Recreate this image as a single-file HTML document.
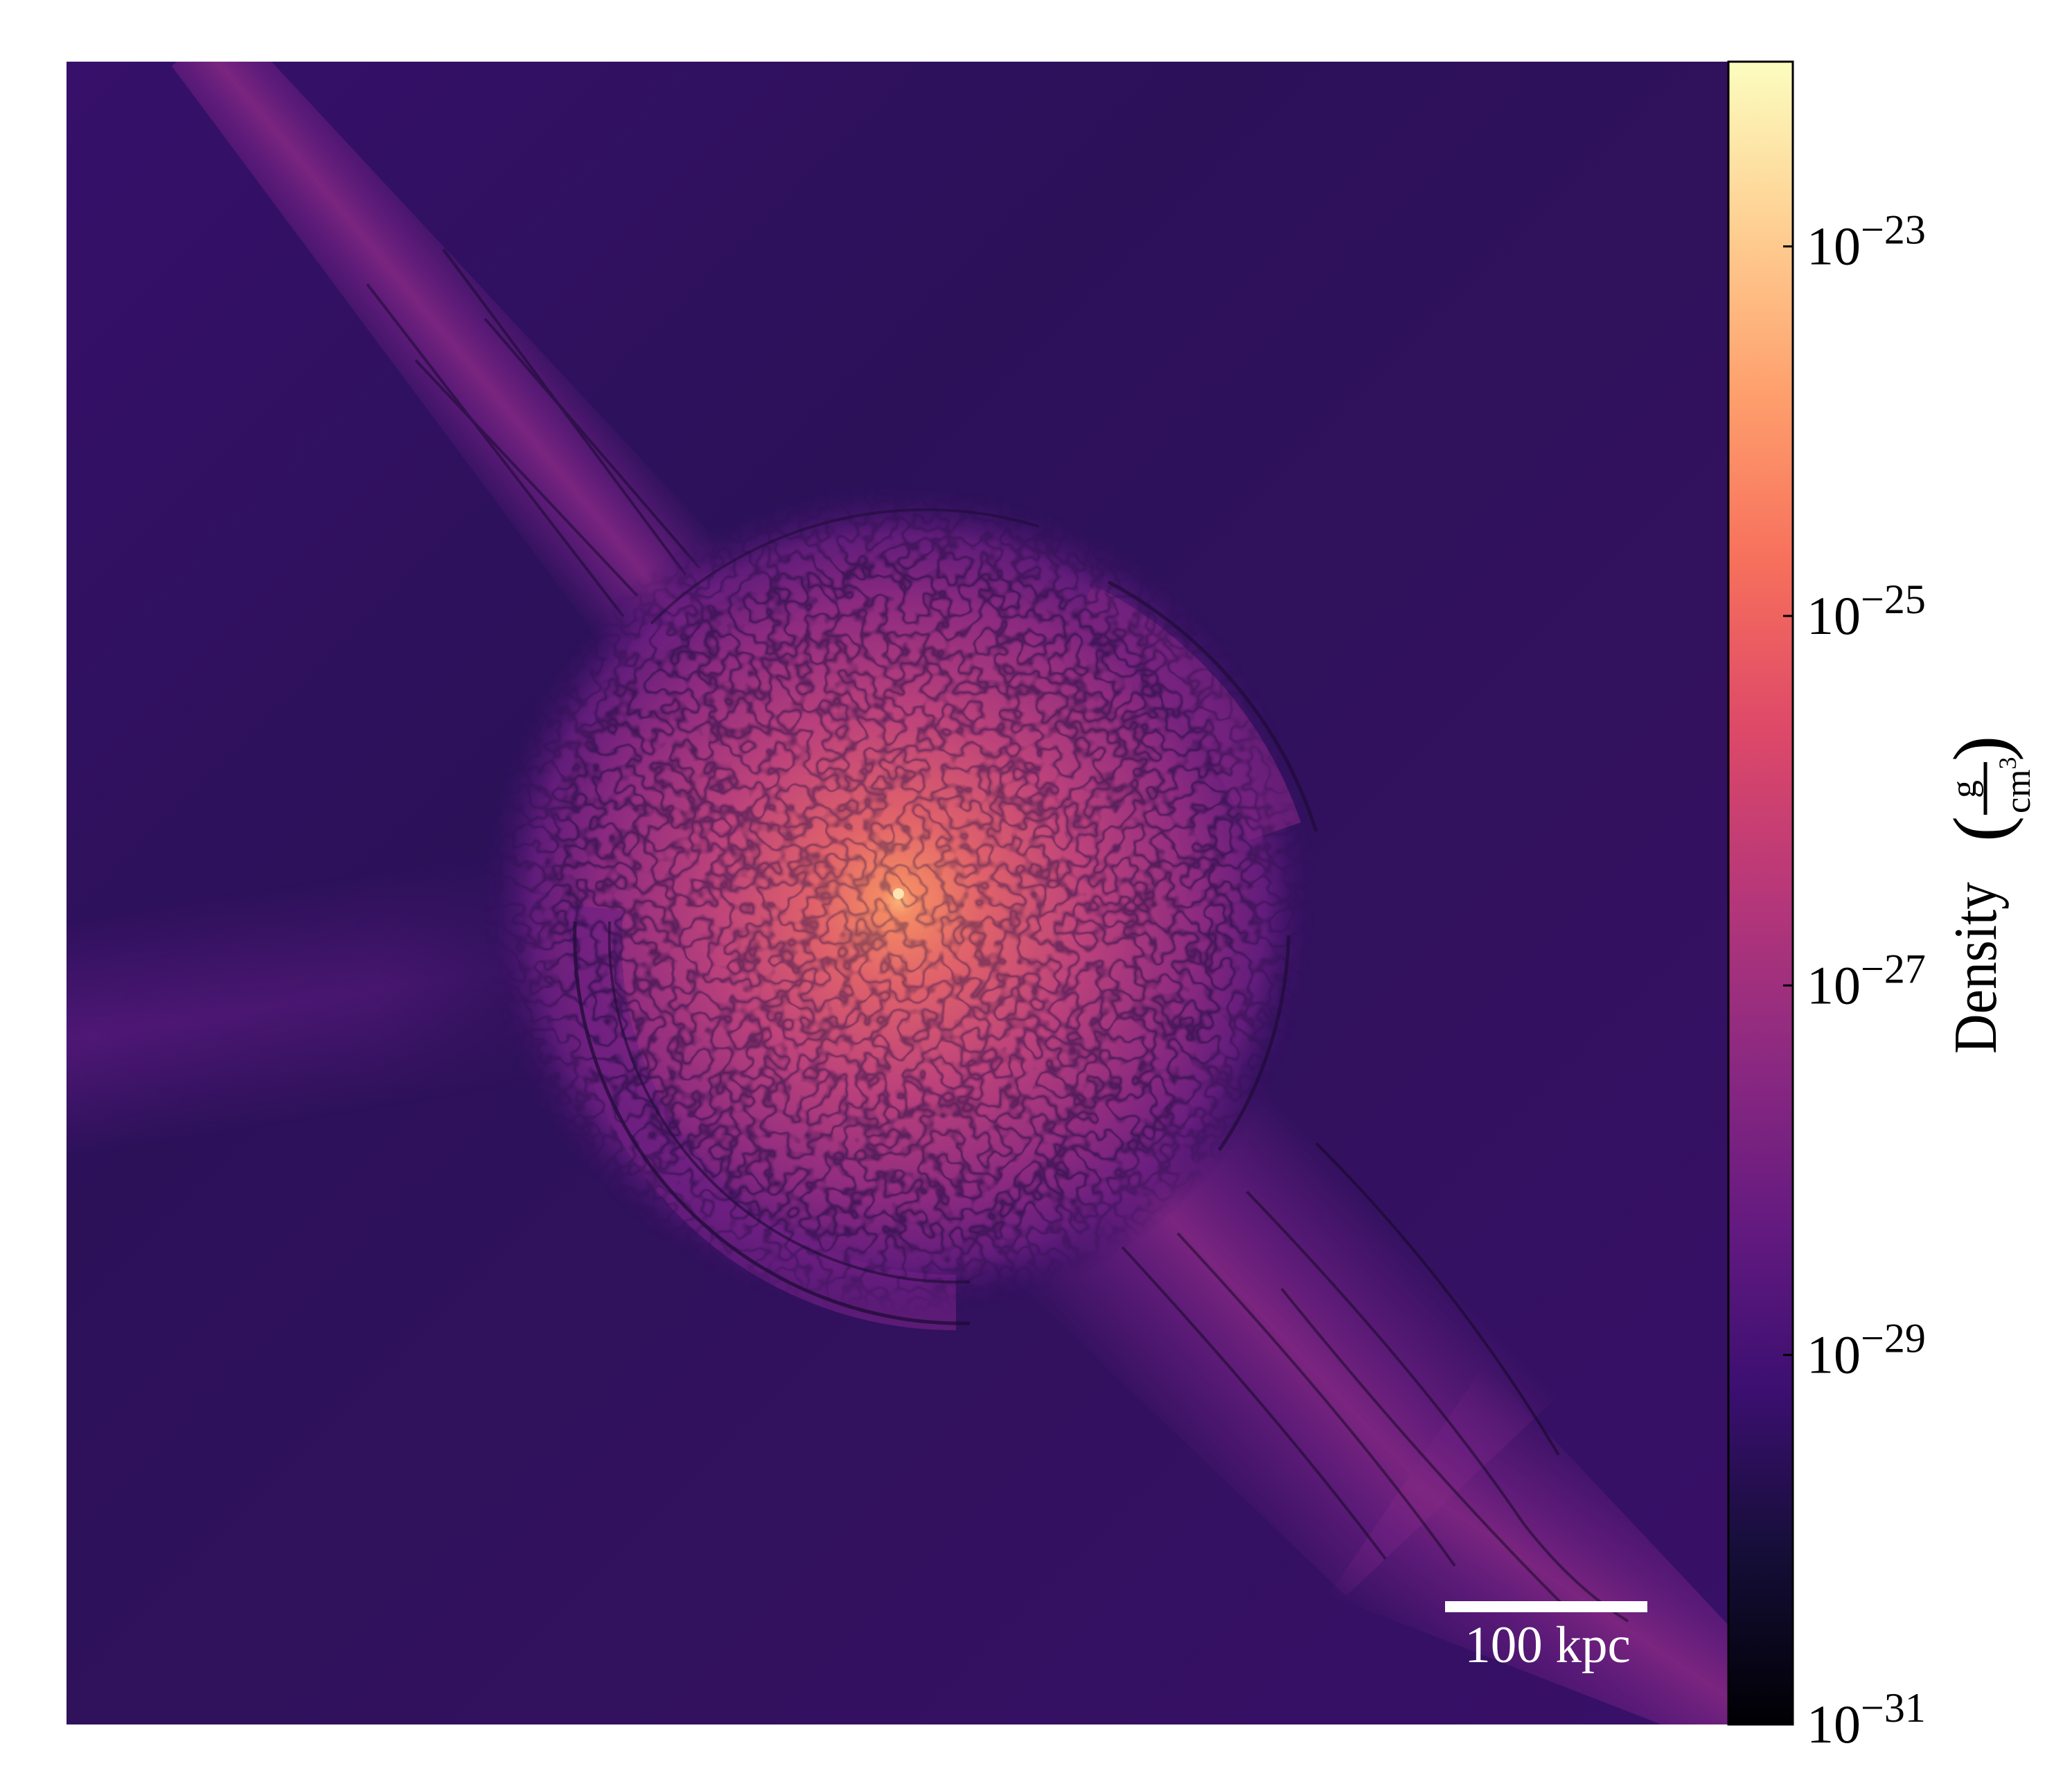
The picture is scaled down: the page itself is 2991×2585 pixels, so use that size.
<!DOCTYPE html>
<html><head><meta charset="utf-8">
<style>
html,body{margin:0;padding:0;background:#fff;}
svg{display:block;}
text{font-family:"Liberation Serif","DejaVu Serif",serif;}
</style></head>
<body>
<svg id="fig" width="2991" height="2585" viewBox="0 0 2991 2585" xmlns="http://www.w3.org/2000/svg" color-interpolation-filters="sRGB">
<defs>
  <clipPath id="plotClip"><rect x="96" y="89" width="2399" height="2400"/></clipPath>
  <linearGradient id="bgGrad" x1="0" y1="0" x2="1" y2="1">
    <stop offset="0" stop-color="#36106a"/>
    <stop offset="0.35" stop-color="#2c1159"/>
    <stop offset="0.7" stop-color="#33115f"/>
    <stop offset="1" stop-color="#381068"/>
  </linearGradient>
  <linearGradient id="bandGrad" x1="0" y1="0" x2="0" y2="1">
    <stop offset="0" stop-color="#5a1a7e" stop-opacity="0"/>
    <stop offset="0.5" stop-color="#5a1a7e" stop-opacity="0.75"/>
    <stop offset="1" stop-color="#5a1a7e" stop-opacity="0"/>
  </linearGradient>
  <linearGradient id="jetGrad" x1="0" y1="0" x2="0" y2="1">
    <stop offset="0" stop-color="#6c1f80" stop-opacity="0"/>
    <stop offset="0.3" stop-color="#6c1f80" stop-opacity="0.7"/>
    <stop offset="0.5" stop-color="#7e2681" stop-opacity="0.95"/>
    <stop offset="0.7" stop-color="#6c1f80" stop-opacity="0.7"/>
    <stop offset="1" stop-color="#6c1f80" stop-opacity="0"/>
  </linearGradient>
  <linearGradient id="hBandGrad" x1="0" y1="0" x2="1" y2="0">
    <stop offset="0" stop-color="#fff" stop-opacity="1"/>
    <stop offset="0.6" stop-color="#fff" stop-opacity="0.8"/>
    <stop offset="1" stop-color="#fff" stop-opacity="0"/>
  </linearGradient>
  <mask id="bandMask"><rect x="96" y="1100" width="750" height="700" fill="url(#hBandGrad)"/></mask>
  <radialGradient id="coreGrad" cx="1298" cy="1300" r="600" gradientUnits="userSpaceOnUse">
    <stop offset="0" stop-color="#fbb27a"/>
    <stop offset="0.04" stop-color="#f48a64"/>
    <stop offset="0.2" stop-color="#e0626a"/>
    <stop offset="0.45" stop-color="#bc427b"/>
    <stop offset="0.72" stop-color="#8c2a80"/>
    <stop offset="0.88" stop-color="#6a1e80" stop-opacity="0.85"/>
    <stop offset="1" stop-color="#3a1068" stop-opacity="0"/>
  </radialGradient>
  <radialGradient id="coreMaskGrad" cx="1298" cy="1300" r="600" gradientUnits="userSpaceOnUse">
    <stop offset="0" stop-color="#fff" stop-opacity="0.45"/>
    <stop offset="0.8" stop-color="#fff" stop-opacity="0.85"/>
    <stop offset="0.93" stop-color="#fff" stop-opacity="0.4"/>
    <stop offset="1" stop-color="#fff" stop-opacity="0"/>
  </radialGradient>
  <mask id="coreMask"><rect x="96" y="89" width="2399" height="2400" fill="url(#coreMaskGrad)"/></mask>
  <filter id="veins" x="600" y="600" width="1400" height="1400" filterUnits="userSpaceOnUse" color-interpolation-filters="sRGB">
    <feTurbulence type="fractalNoise" baseFrequency="0.036" numOctaves="2" seed="7" result="n"/>
    <feColorMatrix in="n" type="matrix" values="0 0 0 0 0.14  0 0 0 0 0.05  0 0 0 0 0.27  1 0 0 0 0"/>
    <feComponentTransfer><feFuncA type="table" tableValues="0 0 0 0 0 0 0 0 0.3 0.8 0.3 0 0 0 0 0 0 0 0"/></feComponentTransfer>
  </filter>
  <linearGradient id="cbGrad" x1="0" y1="1" x2="0" y2="0">
    <stop offset="0" stop-color="#000004"/>
    <stop offset="0.1" stop-color="#140e36"/>
    <stop offset="0.2" stop-color="#3b0f70"/>
    <stop offset="0.3" stop-color="#641a80"/>
    <stop offset="0.4" stop-color="#8c2981"/>
    <stop offset="0.5" stop-color="#b73779"/>
    <stop offset="0.6" stop-color="#de4968"/>
    <stop offset="0.7" stop-color="#f7705c"/>
    <stop offset="0.8" stop-color="#fe9f6d"/>
    <stop offset="0.9" stop-color="#fecf92"/>
    <stop offset="1" stop-color="#fcfdbf"/>
  </linearGradient>
</defs>

<g id="image" clip-path="url(#plotClip)">
  <rect x="96" y="89" width="2399" height="2400" fill="url(#bgGrad)"/>
  <g mask="url(#bandMask)">
    <g transform="translate(96,1500) rotate(-9)">
      <rect x="-200" y="-170" width="1100" height="340" fill="url(#bandGrad)"/>
    </g>
  </g>
  <g id="jetUpper">
    <g transform="translate(290,60) rotate(50.2)">
      <polygon points="0,-55 1100,-115 1100,115 0,55" fill="url(#jetGrad)"/>
    </g>
    <g stroke="#12082a" stroke-width="4" fill="none" opacity="0.5">
      <line x1="530" y1="410" x2="900" y2="890"/>
      <line x1="640" y1="360" x2="990" y2="830"/>
      <line x1="700" y1="460" x2="1010" y2="820"/>
      <line x1="600" y1="520" x2="920" y2="860"/>
    </g>
  </g>
  <g id="jetLower">
    <g transform="translate(1560,1620) rotate(46.7)">
      <polygon points="0,-230 760,-230 760,190 0,230" fill="url(#jetGrad)"/>
    </g>
    <g transform="translate(2080,2170) rotate(34)">
      <polygon points="-60,-200 560,-60 560,60 -60,200" fill="url(#jetGrad)"/>
    </g>
    <g stroke="#10071f" stroke-width="4" fill="none" opacity="0.5">
      <path d="M1620 1800 Q1850 2050 2000 2250"/>
      <path d="M1700 1780 Q1950 2050 2100 2260"/>
      <path d="M1800 1720 Q2050 1980 2200 2200 Q2270 2290 2350 2340"/>
      <path d="M1900 1650 Q2100 1850 2250 2100"/>
      <path d="M1850 1860 Q2060 2120 2260 2320"/>
    </g>
  </g>
  <circle cx="1298" cy="1300" r="620" fill="url(#coreGrad)"/>
  <g id="arcs" fill="none">
    <path d="M860 1310 A520 520 0 0 0 1380 1880" stroke="#6d2082" stroke-width="80" opacity="0.7"/>
    <path d="M830 1330 A560 560 0 0 0 1400 1910" stroke="#1a0a30" stroke-width="5" opacity="0.7"/>
    <path d="M880 1330 A500 500 0 0 0 1400 1850" stroke="#1a0a30" stroke-width="4" opacity="0.6"/>
    <path d="M1560 880 A560 560 0 0 1 1840 1200" stroke="#7a2480" stroke-width="80" opacity="0.7"/>
    <path d="M1600 840 A620 620 0 0 1 1900 1200" stroke="#1a0a30" stroke-width="5" opacity="0.6"/>
    <path d="M940 900 A560 560 0 0 1 1500 760" stroke="#1a0a30" stroke-width="4" opacity="0.5"/>
    <path d="M1860 1350 A570 570 0 0 1 1760 1660" stroke="#1a0a30" stroke-width="5" opacity="0.6"/>
  </g>
  <rect x="600" y="600" width="1400" height="1400" filter="url(#veins)" mask="url(#coreMask)"/>
  <circle cx="1297" cy="1290" r="8" fill="#fde3b0"/>
  <rect x="2086" y="2311" width="292" height="16" fill="#ffffff"/>
  <text x="2234" y="2399" font-size="75" fill="#ffffff" text-anchor="middle">100 kpc</text>
</g>

<g id="colorbar">
  <rect x="2495" y="89" width="93" height="2400" fill="url(#cbGrad)" stroke="#000" stroke-width="3"/>
  <g id="cbTicks"></g>
</g>

<g id="cbLabel">
  <text transform="translate(2881,1521) rotate(-90)" font-size="88" textLength="248" lengthAdjust="spacingAndGlyphs">Density</text>
  <g>
    <text transform="translate(2897,1215) rotate(-90)" font-size="112">(</text>
    <path d="M2866 1100 L2866 1176" stroke="#000" stroke-width="5" fill="none"/>
    <text transform="translate(2852,1152) rotate(-90)" font-size="52">g</text>
    <text transform="translate(2930,1174) rotate(-90)" font-size="52">cm<tspan font-size="36" dy="-20">3</tspan></text>
    <text transform="translate(2897,1099) rotate(-90)" font-size="112">)</text>
  </g>
</g>

<script>
const tickExps = [-31, -29, -27, -25, -23];
const cbMinExp = -31;
const cbMaxExp = -22;
const cbTop = 89, cbBottom = 2489, cbRight = 2588;
function cbY(e){ return cbBottom - (e - cbMinExp) / (cbMaxExp - cbMinExp) * (cbBottom - cbTop); }
const NS = "http://www.w3.org/2000/svg";
const g = document.getElementById("cbTicks");
tickExps.forEach(function(e){
  const y = cbY(e);
  const ln = document.createElementNS(NS, "line");
  
  
  ln.setAttribute("x1", cbRight - 14); ln.setAttribute("x2", cbRight);
  ln.setAttribute("y1", y); ln.setAttribute("y2", y);
  ln.setAttribute("stroke", "#000"); ln.setAttribute("stroke-width", "3");
  g.appendChild(ln);
  const t = document.createElementNS(NS, "text");
  
  
  t.setAttribute("x", 2608); t.setAttribute("y", y + 26);
  t.setAttribute("font-size", "78");
  t.textContent = "10";
  const s = document.createElementNS(NS, "tspan");
  s.setAttribute("font-size", "60");
  s.setAttribute("dy", "-30");
  s.textContent = "\u2212" + Math.abs(e);
  t.appendChild(s);
  g.appendChild(t);
});
</script>
</svg>
</body></html>
